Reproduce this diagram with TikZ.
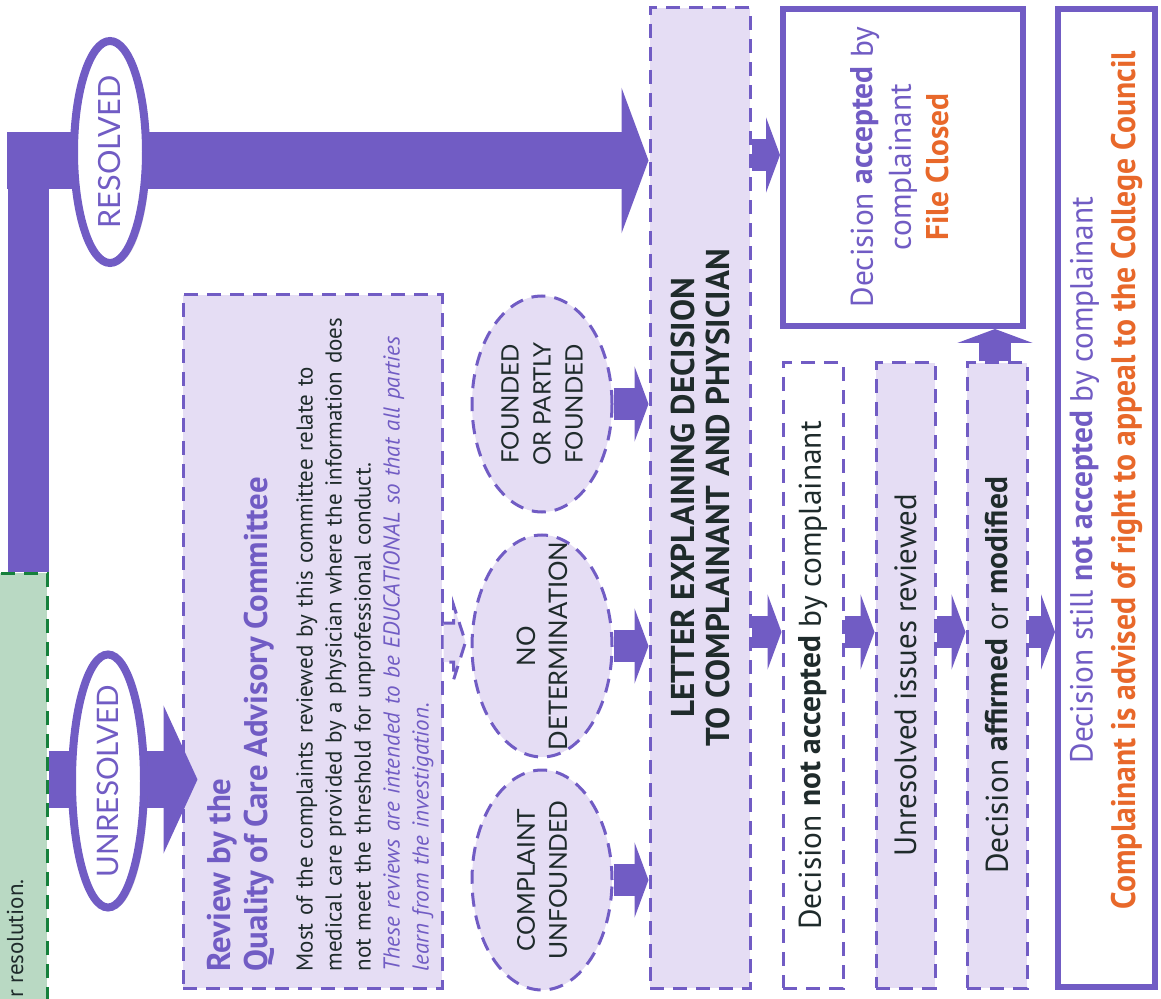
\documentclass[tikz,border=0pt]{standalone}
\usepackage{fontspec}
\setmainfont{PT Sans}
\newfontfamily\capsfont{Lato}
\usetikzlibrary{arrows.meta,shapes.geometric,shadows,calc}
\definecolor{qpurple}{HTML}{715CC4}
\definecolor{qlav}{HTML}{E5DDF4}
\definecolor{qorange}{HTML}{E8682A}
\definecolor{qgreen}{HTML}{B9D9C3}
\definecolor{qdkgreen}{HTML}{16803C}
\definecolor{qtext}{HTML}{1F2B2B}
\begin{document}
\begin{tikzpicture}[x=0.5pt, y=-0.5pt,
		dbox/.style={draw=qpurple, line width=1.5pt, dash pattern=on 7pt off 4.5pt, fill=qlav, inner sep=0pt},
		sbox/.style={draw=qpurple, line width=3pt, fill=white, inner sep=0pt},
		oval/.style={ellipse, draw=qpurple, line width=4pt, fill=white, inner sep=0pt,
			drop shadow={opacity=.25, shadow xshift=2pt, shadow yshift=-1pt}},
		vtext/.style={rotate=90, inner sep=0pt, align=center},
		fat/.style={draw=qpurple, line width=#1},
		smallarrow/.style={draw=qpurple, line width=16pt, -{Triangle[width=37.5pt, length=7pt]}}]
	\useasboundingbox (0,0) rectangle (1161,999);

	\node[draw=qdkgreen, fill=qgreen, line width=1.5pt, dash pattern=on 7pt off 4.5pt,
		minimum width=40pt, minimum height=220pt, inner sep=0pt] (green) at (7,793) {};
	\node[vtext, anchor=west, font=\fontsize{11.5}{13}\selectfont, text=qtext] (greentxt) at (15,998) {r resolution.};

	\node[dbox, minimum width=129.5pt, minimum height=346.5pt] (review) at (312.5,641.5) {};
	\node[dbox, minimum width=50pt, minimum height=490pt] (letter) at (700,498) {};
	\node[sbox, minimum width=120pt, minimum height=158.5pt] (accepted) at (903,167.5) {};
	\node[dbox, fill=white, minimum width=30pt, minimum height=312.5pt] (notacc) at (813,675.5) {};
	\node[dbox, minimum width=29.5pt, minimum height=312.5pt] (reviewed) at (905.5,675.5) {};
	\node[dbox, minimum width=30pt, minimum height=312.5pt] (affirmed) at (997,675.5) {};
	\node[sbox, minimum width=48.5pt, minimum height=489pt] (appeal) at (1106.5,498) {};

	\node[dbox, ellipse, minimum width=70pt, minimum height=108pt] (founded) at (542,404) {};
	\node[dbox, ellipse, minimum width=70pt, minimum height=111pt] (nodet) at (542,646) {};
	\node[dbox, ellipse, minimum width=70pt, minimum height=110pt] (unfounded) at (542,880) {};

	\coordinate (bend) at (7,160.5);
	\coordinate (unres) at (47,779.5);
	\draw[fat=20.5pt] ([xshift=-10.25pt]green.north east) -- ([xshift=-10.25pt]green.north east |- 0,132);
	\draw[fat=28.5pt, -{Triangle[width=72.5pt, length=13.5pt]}] (bend) -- (bend -| letter.west);
	\draw[fat=28.5pt, -{Triangle[width=73.5pt, length=17pt]}] (unres -| green.east) -- ($(unres -| review.west)+(16,0)$);

	\node[oval, minimum width=36pt, minimum height=111pt] (resolved) at (110,152) {};
	\node[vtext, font=\capsfont\fontsize{15.3}{16}\selectfont, text=qpurple] (resolvedtxt) at (resolved) {RESOLVED};
	\node[oval, minimum width=36pt, minimum height=126.5pt] (unresolved) at (108,781) {};
	\node[vtext, font=\capsfont\fontsize{14.8}{16}\selectfont, text=qpurple] (unresolvedtxt) at (unresolved) {UNRESOLVED};

	\draw[dbox] (review.east |- 0,623) -- ++(10,0) -- ++(0,-18) -- ++(12,37) -- ++(-12,38) -- ++(0,-18) -- ++(-10,0);

	\node[vtext, align=left, text width=330pt, font=\fontsize{11.5}{14.5}\selectfont, text=qtext] (reviewtxt) at ($(review)+(8,0)$) {%
		{\color{qpurple}\bfseries\fontsize{16.4}{18.5}\selectfont Review by the\\Quality of Care Advisory Committee\par}\vspace{8pt}
		Most of the complaints reviewed by this committee relate to\\
		medical care provided by a physician where the information does\\
		not meet the threshold for unprofessional conduct.\\
		{\color{qpurple}\itshape These reviews are intended to be EDUCATIONAL so that all parties\\learn from the investigation.}};

	\node[vtext, font=\capsfont\fontsize{12}{16}\selectfont, text=qtext] (foundedtxt) at (founded) {FOUNDED\\OR PARTLY\\FOUNDED};
	\node[vtext, font=\capsfont\fontsize{12.8}{16}\selectfont, text=qtext] (nodettxt) at (nodet) {NO\\DETERMINATION};
	\node[vtext, font=\capsfont\fontsize{12.3}{16}\selectfont, text=qtext] (unfoundedtxt) at (unfounded) {COMPLAINT\\UNFOUNDED};

	\draw[smallarrow] (founded.east) -- (founded.east -| letter.west);
	\draw[smallarrow] (nodet.east) -- (nodet.east -| letter.west);
	\draw[smallarrow] (unfounded.east) -- (unfounded.east -| letter.west);
	\draw[smallarrow] (letter.east |- 0,155) -- (accepted.west |- 0,155);
	\draw[smallarrow] (letter.east |- 0,632) -- (notacc.west |- 0,632);
	\draw[smallarrow] (notacc.east |- 0,632) -- (reviewed.west |- 0,632);
	\draw[smallarrow] (reviewed.east |- 0,632) -- (affirmed.west |- 0,632);
	\draw[smallarrow] (affirmed.east |- 0,632) -- (appeal.west |- 0,632);
	\draw[smallarrow] (affirmed.north -| 995,0) -- (accepted.south -| 995,0);

	\node[vtext, font=\bfseries\fontsize{16.5}{17.5}\selectfont, text=qtext] (lettertxt) at (letter) {LETTER EXPLAINING DECISION\\TO COMPLAINANT AND PHYSICIAN};
	\node[vtext, font=\fontsize{15.7}{19}\selectfont, text=qpurple] (acceptedtxt) at (900,167) {Decision \textbf{accepted} by\\complainant\\\textcolor{qorange}{\textbf{File Closed}}};
	\node[vtext, font=\fontsize{15.7}{17}\selectfont, text=qtext] (notacctxt) at (notacc) {Decision \textbf{not accepted} by complainant};
	\node[vtext, font=\fontsize{15.4}{17}\selectfont, text=qtext] (reviewedtxt) at (reviewed) {Unresolved issues reviewed};
	\node[vtext, font=\fontsize{15.7}{17}\selectfont, text=qtext] (affirmedtxt) at (affirmed) {Decision \textbf{affirmed} or \textbf{modified}};
	\node[vtext, font=\fontsize{16}{21.5}\selectfont, text=qpurple] (appealtxt) at (1106.5,480) {%
		\scalebox{0.98}[1]{Decision still \textbf{not accepted} by complainant}\\
		\scalebox{0.93}[1]{\textcolor{qorange}{\bfseries\fontsize{17}{18}\selectfont Complainant is advised of right to appeal to the College Council}}};
\end{tikzpicture}
\end{document}
